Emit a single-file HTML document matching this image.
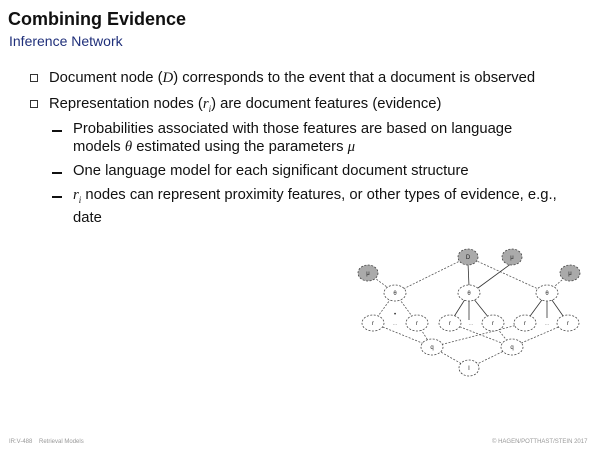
<!DOCTYPE html>
<html><head><meta charset="utf-8"><style>
body{margin:0;width:600px;height:450px;background:#fff;position:relative;overflow:hidden;font-family:"Liberation Sans",sans-serif;}
.t{position:absolute;white-space:nowrap;color:#111;font-size:14.8px;line-height:18px;}
.box{position:absolute;width:6px;height:6px;border:1px solid #333;}
.dash{position:absolute;width:10px;height:2px;background:#111;}
i{font-family:"Liberation Serif",serif;}
</style></head><body>
<div class="t" style="left:8px;top:8px;font-size:18px;font-weight:bold;line-height:22px;">Combining Evidence</div>
<div class="t" style="left:9px;top:32px;font-size:14px;color:#1f2f7a;">Inference Network</div>

<div class="box" style="left:30px;top:74px;"></div>
<div class="t" style="left:49px;top:69px;">Document node (<i>D</i>) corresponds to the event that a document is observed</div>
<div class="box" style="left:30px;top:100px;"></div>
<div class="t" style="left:49px;top:95px;">Representation nodes (<i>r<sub style="font-size:9px">i</sub></i>) are document features (evidence)</div>

<div class="dash" style="left:52px;top:130px;"></div>
<div class="t" style="left:73px;top:120px;">Probabilities associated with those features are based on language<br>models <i>θ</i> estimated using the parameters <i>μ</i></div>
<div class="dash" style="left:52px;top:172px;"></div>
<div class="t" style="left:73px;top:162px;">One language model for each significant document structure</div>
<div class="dash" style="left:52px;top:196px;"></div>
<div class="t" style="left:73px;top:186px;"><i>r<sub style="font-size:9px">i</sub></i> nodes can represent proximity features, or other types of evidence, e.g.,<br>date</div>

<svg style="position:absolute;left:0;top:0" width="600" height="450">
<g stroke="#555" stroke-width="0.8" stroke-dasharray="2,1.5" fill="none">
<line x1="468" y1="257" x2="395" y2="293"/><line x1="468" y1="257" x2="547" y2="293"/>
<line x1="368" y1="273" x2="395" y2="293"/><line x1="570" y1="273" x2="547" y2="293"/>
<line x1="395" y1="293" x2="373" y2="323"/><line x1="395" y1="293" x2="417" y2="323"/>
<line x1="373" y1="323" x2="432" y2="347"/><line x1="417" y1="323" x2="432" y2="347"/>
<line x1="450" y1="323" x2="512" y2="347"/><line x1="493" y1="323" x2="512" y2="347"/>
<line x1="525" y1="323" x2="432" y2="347"/><line x1="568" y1="323" x2="512" y2="347"/>
<line x1="432" y1="347" x2="469" y2="368"/><line x1="512" y1="347" x2="469" y2="368"/>
</g>
<g stroke="#333" stroke-width="0.8">
<line x1="468" y1="263" x2="469" y2="286"/><line x1="512" y1="263" x2="478" y2="288"/>
<line x1="469" y1="293" x2="450" y2="323"/><line x1="469" y1="293" x2="469" y2="320"/><line x1="469" y1="293" x2="493" y2="323"/>
<line x1="547" y1="293" x2="525" y2="323"/><line x1="547" y1="293" x2="547" y2="318"/><line x1="547" y1="293" x2="568" y2="323"/>
</g>
<g stroke="#444" stroke-width="0.8" stroke-dasharray="2,1.5" font-family="Liberation Sans" font-size="6" text-anchor="middle">
<g fill="#aaa"><ellipse cx="468" cy="257" rx="10" ry="8"/><ellipse cx="512" cy="257" rx="10" ry="8"/><ellipse cx="368" cy="273" rx="10" ry="8"/><ellipse cx="570" cy="273" rx="10" ry="8"/></g>
<g fill="#fff"><ellipse cx="395" cy="293" rx="11" ry="8"/><ellipse cx="469" cy="293" rx="11" ry="8"/><ellipse cx="547" cy="293" rx="11" ry="8"/>
<ellipse cx="373" cy="323" rx="11" ry="8"/><ellipse cx="417" cy="323" rx="11" ry="8"/><ellipse cx="450" cy="323" rx="11" ry="8"/><ellipse cx="493" cy="323" rx="11" ry="8"/><ellipse cx="525" cy="323" rx="11" ry="8"/><ellipse cx="568" cy="323" rx="11" ry="8"/>
<ellipse cx="432" cy="347" rx="11" ry="8"/><ellipse cx="512" cy="347" rx="11" ry="8"/><ellipse cx="469" cy="368" rx="10" ry="8"/></g>
<g fill="#222" stroke="none">
<text x="468" y="259">D</text><text x="512" y="259">μ</text><text x="368" y="275">μ</text><text x="570" y="275">μ</text>
<text x="395" y="295">θ</text><text x="469" y="295">θ</text><text x="547" y="295">θ</text>
<text x="373" y="325">r</text><text x="417" y="325">r</text><text x="450" y="325">r</text><text x="493" y="325">r</text><text x="525" y="325">r</text><text x="568" y="325">r</text>
<text x="395" y="316">•</text><text x="395" y="325" fill="#999">...</text><text x="471" y="325" fill="#999">...</text><text x="547" y="325" fill="#999">...</text>
<text x="432" y="349">q</text><text x="512" y="349">q</text><text x="469" y="370">I</text></g>
</g>
</svg>

<div class="t" style="left:9px;top:438px;font-size:6px;line-height:8px;color:#999;">IR:V-488 &nbsp;&nbsp; Retrieval Models</div>
<div class="t" style="left:492px;top:438px;font-size:6px;line-height:8px;color:#999;">© HAGEN/POTTHAST/STEIN 2017</div>
</body></html>
